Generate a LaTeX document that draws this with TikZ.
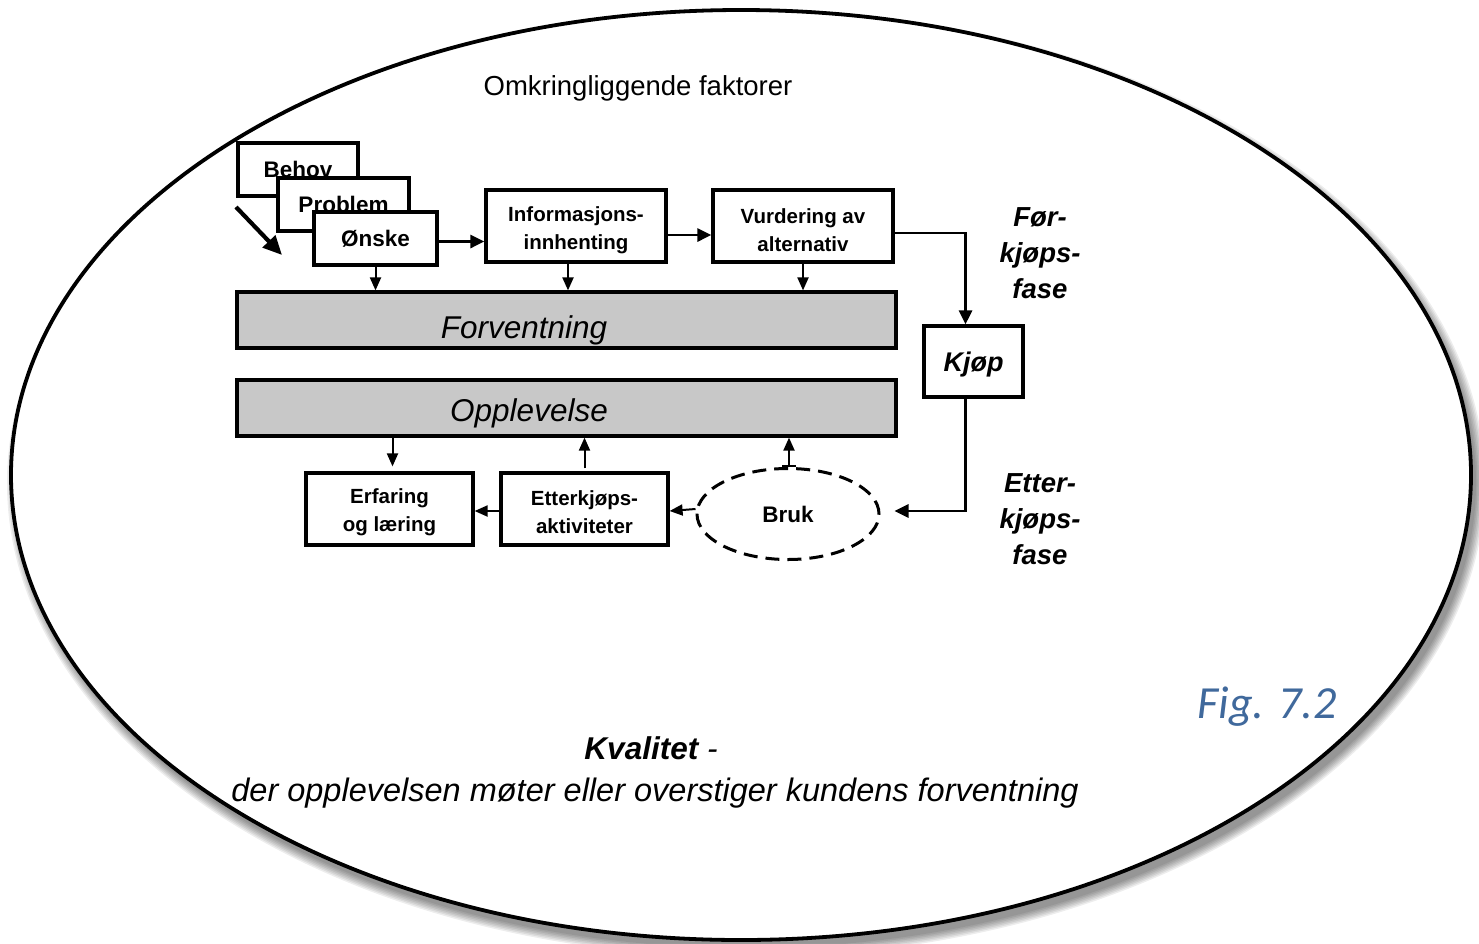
\documentclass[tikz,border=0pt]{standalone}
\usepackage{fontspec}
\setmainfont{Liberation Sans}
\newfontfamily\figfont{Carlito}
\usetikzlibrary{arrows.meta,shapes.geometric,calc}
\definecolor{barfill}{RGB}{200,200,200}
\definecolor{figblue}{RGB}{64,105,156}
\begin{document}
\begin{tikzpicture}[x=1pt,y=-1pt,
  box/.style={draw,line width=3.2pt,fill=white,inner sep=0pt,align=center},
  lbl/.style={font=\fontsize{20.5}{27.5}\selectfont\bfseries,align=center},
  lblbig/.style={font=\fontsize{22.5}{27}\selectfont\bfseries},
  bar/.style={draw,line width=3.2pt,fill=barfill,inner sep=0pt,minimum width=659pt,minimum height=56pt},
  bartext/.style={font=\fontsize{31.5}{36}\selectfont\itshape},
  phase/.style={font=\fontsize{27.5}{36}\selectfont\bfseries\itshape,align=center},
  arr/.style={line width=2.8pt,-{Triangle[length=14pt,width=13pt]}},
  arrs/.style={line width=2pt,-{Triangle[length=13pt,width=11pt]}},
]
\useasboundingbox (0,0) rectangle (1479,943);
\fill[white] (0,0) rectangle (1479,943);
% shadow
\foreach \k in {0,1.5,...,9}{
  \fill[black,opacity=0.07] (746,483) ellipse [x radius={730pt+\k pt}, y radius={465pt+\k pt}];
}
\draw[line width=3.8pt,fill=white] (741,475) ellipse [x radius=730pt, y radius=465pt];

\node[font=\fontsize{27.5}{33}\selectfont] (omk) at (638,88) {Omkringliggende faktorer};

% stacked boxes
\node[box,lblbig,minimum width=120pt,minimum height=53pt] (behov) at (298,169.5) {Behov};
\node[box,lblbig,minimum width=131pt,minimum height=53pt] (problem) at (343.5,204.5) {Problem};
\node[box,lblbig,minimum width=123pt,minimum height=53pt] (onske) at (375.5,238.5) {Ønske};
\coordinate (d1) at (236,207);
\coordinate (d2) at (282,255);
\draw[line width=4.2pt,-{Triangle[length=19pt,width=17pt]}] (d1) -- (d2);

\node[box,minimum width=180pt,minimum height=72pt] (info) at (576,226) {};
\node[lbl] (infot) at (576,230) {Informasjons-\\innhenting};
\node[box,minimum width=180pt,minimum height=72pt] (vurd) at (803,226) {};
\node[lbl] (vurdt) at (803,230) {Vurdering av\\alternativ};

\node[bar] (forv) at (566.5,320) {};
\node[bartext] (forvt) at (524,330) {Forventning};
\node[bar] (oppl) at (566.5,408) {};
\node[bartext] (opplt) at (529,413) {Opplevelse};

\node[box,minimum width=99pt,minimum height=71pt] (kjop) at (973.5,361.5) {};
\node[font=\fontsize{27}{30}\selectfont\bfseries\itshape] (kjopt) at (973.5,365) {Kjøp};

\node[box,minimum width=167pt,minimum height=72pt] (erf) at (389.5,509) {};
\node[lbl] (erft) at (389.5,512) {Erfaring\\og læring};
\node[box,minimum width=167pt,minimum height=72pt] (etter) at (584.5,509) {};
\node[lbl] (ettert) at (584.5,512) {Etterkjøps-\\aktiviteter};
\node[ellipse,draw,line width=3pt,dash pattern=on 14pt off 8pt,fill=white,minimum width=182pt,minimum height=91pt,inner sep=0pt,lblbig] (bruk) at (788,514) {Bruk};

\node[phase] (forfase) at (1040,253) {Før-\\kjøps-\\fase};
\node[phase] (etterfase) at (1040,519) {Etter-\\kjøps-\\fase};

% arrows top row
\draw[arr] ([yshift=-3pt]onske.east) -- ([yshift=-3pt]onske.east -| info.west);
\draw[arr] ([yshift=-9pt]info.east) -- ([yshift=-9pt]info.east -| vurd.west);
\draw[arr] ([yshift=-7pt]vurd.east) -| ([xshift=-8pt]kjop.north);
\draw[arr] ([xshift=-8pt]kjop.south) |- ([xshift=14pt,yshift=3pt]bruk.east);

% down arrows to Forventning
\draw[arrs] (onske.south) -- (onske.south |- forv.north);
\draw[arrs] ([xshift=-8pt]info.south) -- ([xshift=-8pt]info.south |- forv.north);
\draw[arrs] (vurd.south) -- (vurd.south |- forv.north);

% lower arrows
\draw[arrs] ([xshift=3pt]erf.north |- oppl.south) -- ([xshift=3pt,yshift=5pt]erf.north);
\draw[arrs] ([yshift=3pt]etter.north) -- (etter.north |- oppl.south);
\draw[line width=2pt,{Bar[width=14pt]}-{Triangle[length=13pt,width=11pt]}] ([xshift=1pt]bruk.north) -- ([xshift=1pt]bruk.north |- oppl.south);
\draw[arrs] (bruk.west |- etter.east) -- ([yshift=-2pt]etter.east);
\draw[arrs] ([yshift=-2pt]etter.west) -- ([yshift=-2pt]erf.east);

% bottom texts
\node[font=\fontsize{31.5}{36}\selectfont\itshape] (kval) at (651,748) {\textbf{Kvalitet} -};
\node[font=\fontsize{32.5}{36}\selectfont\itshape] (def) at (655,793) {der opplevelsen møter eller overstiger kundens forventning};
\node[font=\figfont\fontsize{46}{50}\selectfont\itshape,text=figblue] (fig) at (1267,707) {Fig. 7.2};
\end{tikzpicture}
\end{document}
